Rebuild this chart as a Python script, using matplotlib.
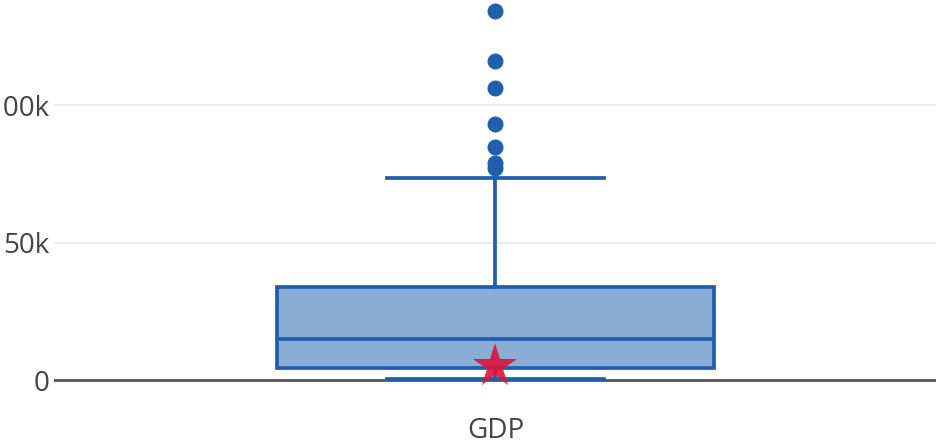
#!/usr/bin/env python3

import matplotlib
matplotlib.use("Agg")
import matplotlib.pyplot as plt

plt.rcParams['font.family'] = ['Open Sans', 'DejaVu Sans']

# box summary (GDP)
category = "GDP"
q1 = 4550
median = 14900
q3 = 33900
whisker_low = 360
whisker_high = 73500
outliers = [134400, 116200, 106200, 93200, 85000, 79100, 77300]
highlight = 5200  # the red star

edge = '#1f5fae'
fill = '#8caed6'

fig = plt.figure(figsize=(9.37, 4.43), dpi=100)
# plot area: left 54px, right edge, top edge, bottom at 400px
ax = fig.add_axes([54 / 937, (443 - 400) / 443, 883 / 937, 400 / 443])

stats = [{
  'med': median, 'q1': q1, 'q3': q3,
  'whislo': whisker_low, 'whishi': whisker_high,
  'fliers': outliers, 'label': category,
}]
ax.bxp(stats, positions=[0], widths=0.494, capwidths=0.245,
       patch_artist=True, showfliers=True,
       boxprops=dict(facecolor=fill, edgecolor=edge, linewidth=2.7),
       medianprops=dict(color=edge, linewidth=2.7),
       whiskerprops=dict(color=edge, linewidth=2.7),
       capprops=dict(color=edge, linewidth=2.7),
       flierprops=dict(marker='o', markersize=10.5, markerfacecolor=edge,
                       markeredgecolor=edge))

ax.plot([0], [highlight], marker='*', markersize=33, color='#dc143c',
        alpha=0.9, linestyle='None', markeredgewidth=0, zorder=5)

ax.set_xlim(-0.5, 0.5)
ax.set_ylim(-7280, 138400)
ax.set_yticks([0, 50000, 100000])
ax.set_yticklabels(['0', '50k', '100k'])

for s in ax.spines.values():
  s.set_visible(False)
ax.yaxis.grid(True, color='#ebebeb', linewidth=1.5)
ax.set_axisbelow(True)
ax.axhline(0, color='#555555', linewidth=2, zorder=1)

ax.tick_params(axis='both', length=0, labelsize=20, labelcolor='#444444')
ax.tick_params(axis='y', pad=3)
ax.tick_params(axis='x', pad=12)
ax.set_xticks([0])
ax.set_xticklabels([category])

fig.savefig("out.png", dpi=100)
